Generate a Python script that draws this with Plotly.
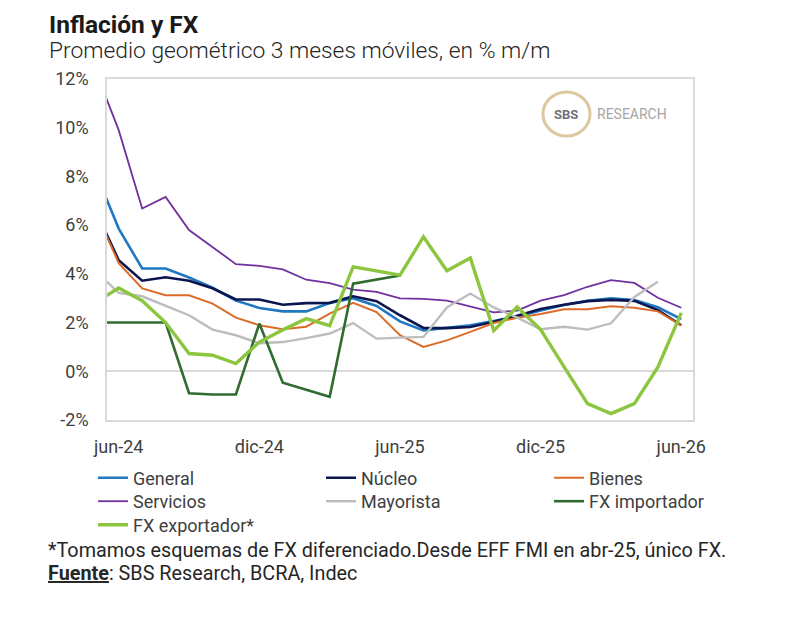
import plotly.graph_objects as go

# Months: first (may-24) lies just outside the visible window (line enters from the left edge)
meses = ["may-24", "jun-24", "jul-24", "ago-24", "sep-24", "oct-24", "nov-24", "dic-24",
         "ene-25", "feb-25", "mar-25", "abr-25", "may-25", "jun-25", "jul-25", "ago-25",
         "sep-25", "oct-25", "nov-25", "dic-25", "ene-26", "feb-26", "mar-26", "abr-26",
         "may-26", "jun-26"]

general = [8.2, 5.86, 4.22, 4.22, 3.85, 3.43, 2.9, 2.6, 2.46, 2.46, 2.8, 3.0, 2.68,
           2.05, 1.68, 1.78, 1.89, 2.06, 2.25, 2.5, 2.72, 2.89, 3.0, 2.93, 2.63, 2.14]
nucleo = [6.62, 4.56, 3.72, 3.86, 3.72, 3.41, 2.95, 2.95, 2.73, 2.8, 2.81, 3.08, 2.88,
          2.3, 1.78, 1.77, 1.82, 2.03, 2.28, 2.56, 2.73, 2.88, 2.93, 2.89, 2.51, 1.89]
bienes = [6.6, 4.44, 3.4, 3.12, 3.12, 2.78, 2.2, 1.89, 1.73, 1.83, 2.37, 2.81, 2.43,
          1.48, 1.0, 1.27, 1.62, 1.98, 2.2, 2.35, 2.55, 2.55, 2.67, 2.61, 2.46, 1.89]
servicios = [12.38, 9.9, 6.68, 7.16, 5.8, 5.1, 4.4, 4.33, 4.18, 3.76, 3.62, 3.35, 3.26,
             2.99, 2.97, 2.9, 2.65, 2.42, 2.49, 2.9, 3.13, 3.47, 3.74, 3.63, 3.02, 2.61]
mayorista = [4.12, 3.22, 3.08, 2.7, 2.3, 1.71, 1.48, 1.15, 1.2, 1.36, 1.55, 1.98, 1.34,
             1.38, 1.41, 2.62, 3.19, 2.62, 2.2, 1.73, 1.83, 1.71, 1.97, 3.05, 3.68, None]
fx_importador = [2.0, 2.0, 2.0, 2.0, -0.9, -0.95, -0.95, 1.96, -0.47, -0.77, -1.05, 3.6, 3.77,
                 3.93, None, None, None, None, None, None, None, None, None, None, None, None]
fx_exportador = [2.82, 3.42, 2.9, 2.0, 0.73, 0.66, 0.32, 1.2, 1.7, 2.16, 1.87, 4.29, 4.12,
                 3.95, 5.52, 4.13, 4.65, 1.67, 2.64, 1.71, 0.18, -1.33, -1.74, -1.33, 0.17, 2.4]

x_ticks = ["jun-24", "dic-24", "jun-25", "dic-25", "jun-26"]
y_ticks = [-2, 0, 2, 4, 6, 8, 10, 12]
y_tick_labels = ["-2%", "0%", "2%", "4%", "6%", "8%", "10%", "12%"]

series = [
    ("General", general, "#1f78c1", 2.6, "legend"),
    ("Núcleo", nucleo, "#0b1650", 2.6, "legend"),
    ("Bienes", bienes, "#dc6b2a", 2.0, "legend"),
    ("Servicios", servicios, "#7030a0", 1.8, "legend2"),
    ("Mayorista", mayorista, "#bdbdbd", 2.4, "legend2"),
    ("FX importador", fx_importador, "#306b30", 2.6, "legend2"),
    ("FX exportador*", fx_exportador, "#8cc63f", 3.4, "legend3"),
]

x = list(range(len(meses)))
fig = go.Figure()
for name, vals, color, w, lg in series:
    fig.add_trace(go.Scatter(x=x, y=vals, mode="lines", name=name, legend=lg,
                             line=dict(color=color, width=w), connectgaps=False))

FONT = "Roboto"
BODY = 8  # page margin around the figure
# plot area in page pixels
L, R, T, B = 107, 693, 79, 420
W, H = 800, 620
PW, PH = R - L, B - T


def px_x(p):
    return (p - L) / PW


def px_y(p):
    return (B - p) / PH


def legend_box(text_left, row_center):
    return dict(orientation="h", x=px_x(text_left - 40), y=px_y(row_center - 18.2),
                xanchor="left", yanchor="top",
                font=dict(family=FONT, size=18, color="#404040"),
                entrywidth=183, entrywidthmode="pixels", traceorder="normal",
                bgcolor="rgba(0,0,0,0)", itemclick=False, itemdoubleclick=False)


fig.update_layout(
    width=W, height=H,
    margin=dict(l=L - BODY, r=W - R + BODY, t=T - BODY, b=H - B + BODY),
    paper_bgcolor="white", plot_bgcolor="white",
    font=dict(family=FONT, color="#404040"),
    showlegend=True,
    legend=legend_box(133, 477.7),
    legend2=legend_box(133, 501.2),
    legend3=legend_box(133, 524.8),
    xaxis=dict(range=[0.5, len(meses) - 0.5], tickmode="array",
               tickvals=[meses.index(t) for t in x_ticks], ticktext=x_ticks,
               showgrid=False, zeroline=False, showline=True, mirror=True,
               linecolor="#d9d9d9", linewidth=1.5, ticks="",
               tickfont=dict(family=FONT, size=18, color="#404040"),
               ticklabelstandoff=10),
    yaxis=dict(range=[-2, 12], tickmode="array", tickvals=y_ticks, ticktext=y_tick_labels,
               showgrid=False, zeroline=True, zerolinecolor="#d9d9d9", zerolinewidth=1.5,
               showline=True, mirror=True, linecolor="#d9d9d9", linewidth=1.5, ticks="",
               tickfont=dict(family=FONT, size=18, color="#404040"),
               ticklabelstandoff=13),
)

ann = [
    dict(text="<b>Inflación y FX</b>", x=px_x(47), y=px_y(BODY + 0.5), xanchor="left", yanchor="top",
         font=dict(family=FONT, size=24.5, color="#1a1a1a")),
    dict(text="Promedio geométrico 3 meses móviles, en % m/m", x=px_x(47), y=px_y(50),
         xanchor="left", yanchor="middle",
         font=dict(family=FONT, size=22.8, color="#262626", weight=300)),
    dict(text="*Tomamos esquemas de FX diferenciado.Desde EFF FMI en abr-25, único FX.",
         x=px_x(46), y=px_y(550), xanchor="left", yanchor="middle",
         font=dict(family=FONT, size=19.8, color="#262626")),
    dict(text="<b><u>Fuente</u></b>: SBS Research, BCRA, Indec", x=px_x(46), y=px_y(573),
         xanchor="left", yanchor="middle", font=dict(family=FONT, size=19.8, color="#262626")),
    dict(text="<b>SBS</b>", x=px_x(566), y=px_y(114), xanchor="center", yanchor="middle",
         font=dict(family=FONT, size=13, color="#6e7079")),
    dict(text="RESEARCH", x=px_x(632), y=px_y(114), xanchor="center", yanchor="middle",
         font=dict(family=FONT, size=14, color="#a6a6a6")),
]
for a in ann:
    a.update(xref="paper", yref="paper", showarrow=False)
    fig.add_annotation(**a)

fig.add_shape(type="circle", xref="paper", yref="paper",
              x0=px_x(543), x1=px_x(590), y0=px_y(136), y1=px_y(92),
              line=dict(color="#dcc89f", width=3), fillcolor="rgba(0,0,0,0)")

fig.write_html("out.html")
